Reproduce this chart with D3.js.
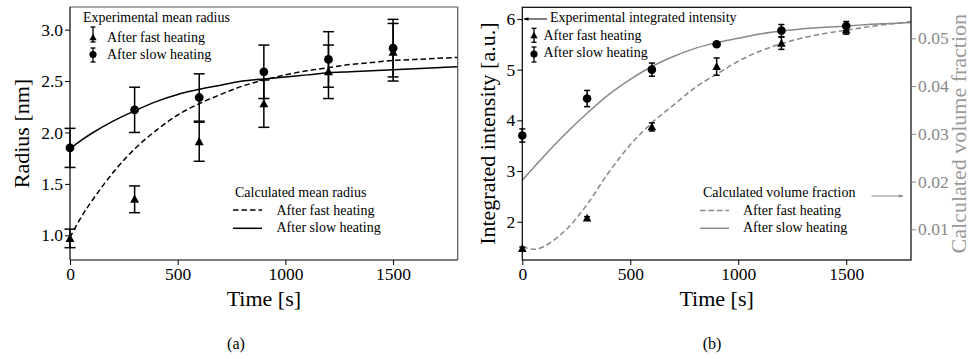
<!DOCTYPE html>
<html>
<head>
<meta charset="utf-8">
<script src="https://cdn.jsdelivr.net/npm/d3@7"></script>
<style>
  html, body { margin: 0; padding: 0; background: #fff; }
  svg { display: block; }
  text { font-family: "Liberation Serif", "Times New Roman", serif; }
</style>
</head>
<body>
<svg id="chart" width="972" height="359"></svg>
<script>
// ---------------- DATA ----------------
const timeExp = [0, 300, 600, 900, 1200, 1500];

// (a) experimental mean radius [nm]
const radiusFast    = [0.97, 1.35, 1.91, 2.28, 2.59, 2.78];
const radiusFastErr = [0.09, 0.13, 0.19, 0.23, 0.26, 0.28];
const radiusSlow    = [1.85, 2.22, 2.34, 2.59, 2.71, 2.82];
const radiusSlowErr = [0.19, 0.22, 0.23, 0.26, 0.27, 0.28];

// calculated curves sample times [s]
const timeCalc = [0, 50, 100, 200, 300, 400, 500, 600, 700, 800, 900, 1000,
                  1100, 1200, 1300, 1400, 1500, 1600, 1700, 1800];
// (a) calculated mean radius [nm]
const radiusCalcFast = [0.98, 1.17, 1.33, 1.61, 1.84, 2.02, 2.17, 2.28, 2.37, 2.45,
                        2.51, 2.56, 2.60, 2.63, 2.66, 2.68, 2.70, 2.71, 2.72, 2.73];
const radiusCalcSlow = [1.84, 1.92, 1.99, 2.11, 2.21, 2.30, 2.37, 2.42, 2.46, 2.50,
                        2.52, 2.54, 2.56, 2.58, 2.59, 2.60, 2.61, 2.62, 2.63, 2.64];

// (b) experimental integrated intensity [a.u.]
const intensityFast    = [1.47, 2.07, 3.87, 5.06, 5.52, 5.78];
const intensityFastErr = [0.03, 0.03, 0.08, 0.17, 0.12, 0.08];
const intensitySlow    = [3.70, 4.43, 5.00, 5.50, 5.77, 5.86];
const intensitySlowErr = [0.13, 0.16, 0.13, 0.03, 0.12, 0.09];

// (b) calculated volume fraction
const vfCalcFast = [0.0064, 0.0058, 0.0064, 0.0098, 0.0152, 0.0219, 0.0277, 0.0323, 0.0360, 0.0397,
                    0.0425, 0.0452, 0.0473, 0.0489, 0.0501, 0.0510, 0.0517, 0.0524, 0.0530, 0.0535];
const vfCalcSlow = [0.0203, 0.0228, 0.0253, 0.0300, 0.0343, 0.0382, 0.0414, 0.0441, 0.0462, 0.0479,
                    0.0491, 0.0500, 0.0509, 0.0515, 0.0520, 0.0523, 0.0526, 0.0529, 0.0531, 0.0533];

const xTicks = [0, 500, 1000, 1500];
const radiusTicks = [1.0, 1.5, 2.0, 2.5, 3.0];
const intensityTicks = [2, 3, 4, 5, 6];
const vfTicks = [0.01, 0.02, 0.03, 0.04, 0.05];

// ---------------- DRAW ----------------
const svg = d3.select("#chart");
const GRAY = "#888888";
const TICKFONT = "17.5px";
const LABELFONT = "22px";
const LEGFONT = "14px";

function styleAxis(g, color) {
  g.select(".domain").remove();
  g.selectAll(".tick line").attr("stroke", color).attr("stroke-width", 1);
  g.selectAll(".tick text").attr("fill", color).style("font-size", TICKFONT)
    .style("font-family", "'Liberation Serif', serif");
}

function triangle(sel, x, y, s, color) {
  sel.append("path")
    .attr("d", `M${x},${y - s}L${x + s * 0.95},${y + s * 0.75}L${x - s * 0.95},${y + s * 0.75}Z`)
    .attr("fill", color);
}

function errorBars(g, xs, ys, errs, x, y, cap, lw, marker, msize) {
  xs.forEach((t, i) => {
    const cx = x(t), cy = y(ys[i]);
    const y1 = y(ys[i] + errs[i]), y2 = y(ys[i] - errs[i]);
    g.append("line").attr("x1", cx).attr("x2", cx).attr("y1", y1).attr("y2", y2)
      .attr("stroke", "#000").attr("stroke-width", lw);
    [y1, y2].forEach(yy => g.append("line")
      .attr("x1", cx - cap).attr("x2", cx + cap).attr("y1", yy).attr("y2", yy)
      .attr("stroke", "#000").attr("stroke-width", lw));
    if (marker === "tri") triangle(g, cx, cy, msize, "#000");
    else g.append("circle").attr("cx", cx).attr("cy", cy).attr("r", msize).attr("fill", "#000");
  });
}

function legendMarker(g, x, yTop, yBot, yMark, marker, size) {
  g.append("line").attr("x1", x).attr("x2", x).attr("y1", yTop).attr("y2", yBot)
    .attr("stroke", "#000").attr("stroke-width", 1.3);
  [yTop, yBot].forEach(yy => g.append("line").attr("x1", x - 2.5).attr("x2", x + 2.5)
    .attr("y1", yy).attr("y2", yy).attr("stroke", "#000").attr("stroke-width", 1.3));
  if (marker === "tri") triangle(g, x, yMark, size, "#000");
  else g.append("circle").attr("cx", x).attr("cy", yMark).attr("r", size).attr("fill", "#000");
}

function text(g, x, y, s, opts = {}) {
  return g.append("text").attr("x", x).attr("y", y).text(s)
    .style("font-size", opts.size || LEGFONT)
    .attr("fill", opts.color || "#000")
    .attr("text-anchor", opts.anchor || "start");
}

// ======== Panel (a) ========
{
  const L = 70, R = 457.7, T = 7, B = 260;
  const x = d3.scaleLinear().domain([0, 1800]).range([L, R]);
  const y = d3.scaleLinear().domain([0.76, 3.22]).range([B, T]);
  const g = svg.append("g");

  const line = d3.line().x((d, i) => x(timeCalc[i])).y(d => y(d)).curve(d3.curveCatmullRom);
  g.append("path").datum(radiusCalcFast).attr("d", line)
    .attr("fill", "none").attr("stroke", "#000").attr("stroke-width", 1.5)
    .attr("stroke-dasharray", "5.5,3");
  g.append("path").datum(radiusCalcSlow).attr("d", line)
    .attr("fill", "none").attr("stroke", "#000").attr("stroke-width", 1.5);

  errorBars(g, timeExp, radiusFast, radiusFastErr, x, y, 5.5, 1.5, "tri", 4.7);
  errorBars(g, timeExp, radiusSlow, radiusSlowErr, x, y, 5.5, 1.5, "circle", 4.4);

  g.append("line").attr("x1", L).attr("x2", R).attr("y1", T).attr("y2", T).attr("stroke", "#555").attr("stroke-width", 1.2);
  g.append("line").attr("x1", R).attr("x2", R).attr("y1", T).attr("y2", B).attr("stroke", "#555").attr("stroke-width", 1.2);
  g.append("line").attr("x1", L).attr("x2", L).attr("y1", T).attr("y2", B).attr("stroke", "#000").attr("stroke-width", 1.2);
  g.append("line").attr("x1", L).attr("x2", R).attr("y1", B).attr("y2", B).attr("stroke", "#000").attr("stroke-width", 1.2);

  const xa = g.append("g").attr("transform", `translate(0,${B})`)
    .call(d3.axisBottom(x).tickValues(xTicks).tickFormat(d3.format("d")).tickSize(5).tickPadding(3));
  styleAxis(xa, "#000");
  const ya = g.append("g").attr("transform", `translate(${L},0)`)
    .call(d3.axisLeft(y).tickValues(radiusTicks).tickFormat(d3.format(".1f")).tickSize(5).tickPadding(2));
  styleAxis(ya, "#000");

  text(g, (L + R) / 2, 306, "Time [s]", { size: LABELFONT, anchor: "middle" });
  text(g, 0, 0, "Radius [nm]", { size: LABELFONT, anchor: "middle" })
    .attr("transform", `translate(29,${(T + B) / 2}) rotate(-90)`);
  text(g, 236, 349, "(a)", { size: "16px", anchor: "middle" });

  text(g, 83, 21.5, "Experimental mean radius");
  legendMarker(g, 93, 27, 42, 37.5, "tri", 3.8);
  text(g, 107, 41.5, "After fast heating");
  legendMarker(g, 93, 48, 62, 54.5, "circle", 3.6);
  text(g, 107, 59.3, "After slow heating");

  text(g, 235, 196.5, "Calculated mean radius");
  g.append("line").attr("x1", 233).attr("x2", 262).attr("y1", 210).attr("y2", 210)
    .attr("stroke", "#000").attr("stroke-width", 1.5).attr("stroke-dasharray", "5.5,3");
  text(g, 276.5, 215, "After fast heating");
  g.append("line").attr("x1", 233).attr("x2", 262).attr("y1", 228.3).attr("y2", 228.3)
    .attr("stroke", "#000").attr("stroke-width", 1.5);
  text(g, 276.5, 232.3, "After slow heating");
}

// ======== Panel (b) ========
{
  const L = 522.3, R = 911, T = 7.3, B = 260;
  const x = d3.scaleLinear().domain([0, 1800]).range([L, R]);
  const yI = d3.scaleLinear().domain([1.245, 6.23]).range([B, T]);
  const yV = d3.scaleLinear().domain([0.00357, 0.0565]).range([B, T]);
  const g = svg.append("g");

  const lineV = d3.line().x((d, i) => x(timeCalc[i])).y(d => yV(d)).curve(d3.curveCatmullRom);
  g.append("path").datum(vfCalcFast).attr("d", lineV)
    .attr("fill", "none").attr("stroke", GRAY).attr("stroke-width", 1.5)
    .attr("stroke-dasharray", "5.5,3");
  g.append("path").datum(vfCalcSlow).attr("d", lineV)
    .attr("fill", "none").attr("stroke", GRAY).attr("stroke-width", 1.5);

  errorBars(g, timeExp, intensityFast, intensityFastErr, x, yI, 3, 1.5, "tri", 4.5);
  errorBars(g, timeExp, intensitySlow, intensitySlowErr, x, yI, 3, 1.5, "circle", 4.3);

  g.append("rect").attr("x", L).attr("y", T).attr("width", R - L).attr("height", B - T)
    .attr("fill", "none").attr("stroke", "#000").attr("stroke-width", 1.2);

  const xa = g.append("g").attr("transform", `translate(0,${B})`)
    .call(d3.axisBottom(x).tickValues(xTicks).tickFormat(d3.format("d")).tickSize(5).tickPadding(3));
  styleAxis(xa, "#000");
  const ya = g.append("g").attr("transform", `translate(${L},0)`)
    .call(d3.axisLeft(yI).tickValues(intensityTicks).tickFormat(d3.format("d")).tickSize(5).tickPadding(2));
  styleAxis(ya, "#000");
  const yra = g.append("g").attr("transform", `translate(${R},0)`)
    .call(d3.axisRight(yV).tickValues(vfTicks).tickFormat(d3.format(".2f")).tickSize(5).tickPadding(2));
  styleAxis(yra, GRAY);

  text(g, (L + R) / 2, 306, "Time [s]", { size: LABELFONT, anchor: "middle" });
  text(g, 0, 0, "Integrated intensity [a.u.]", { size: LABELFONT, anchor: "middle" })
    .attr("transform", `translate(495,${(T + B) / 2}) rotate(-90)`);
  text(g, 0, 0, "Calculated volume fraction", { size: LABELFONT, anchor: "middle", color: "#999" })
    .attr("transform", `translate(966,${(T + B) / 2}) rotate(-90)`);
  text(g, 712, 349, "(b)", { size: "16px", anchor: "middle" });

  const defs = svg.append("defs");
  defs.append("marker").attr("id", "ahBlack").attr("viewBox", "0 0 10 10").attr("refX", 9).attr("refY", 5)
    .attr("markerWidth", 5).attr("markerHeight", 5).attr("orient", "auto")
    .append("path").attr("d", "M0,1.5L10,5L0,8.5Z").attr("fill", "#000");
  defs.append("marker").attr("id", "ahGray").attr("viewBox", "0 0 10 10").attr("refX", 9).attr("refY", 5)
    .attr("markerWidth", 5).attr("markerHeight", 5).attr("orient", "auto")
    .append("path").attr("d", "M0,1.5L10,5L0,8.5Z").attr("fill", GRAY);

  g.append("line").attr("x1", 547).attr("x2", 524).attr("y1", 19).attr("y2", 19)
    .attr("stroke", "#000").attr("stroke-width", 1).attr("marker-end", "url(#ahBlack)");
  text(g, 550, 22, "Experimental integrated intensity");
  legendMarker(g, 534, 28.3, 42.3, 35.5, "tri", 3.8);
  text(g, 543.5, 39.5, "After fast heating");
  legendMarker(g, 534, 47, 62, 54, "circle", 3.6);
  text(g, 543.5, 57, "After slow heating");

  text(g, 703, 196.5, "Calculated volume fraction");
  g.append("line").attr("x1", 871.5).attr("x2", 903).attr("y1", 196).attr("y2", 196)
    .attr("stroke", GRAY).attr("stroke-width", 1).attr("marker-end", "url(#ahGray)");
  g.append("line").attr("x1", 700).attr("x2", 729).attr("y1", 210.5).attr("y2", 210.5)
    .attr("stroke", GRAY).attr("stroke-width", 1.5).attr("stroke-dasharray", "5.5,3");
  text(g, 743, 215, "After fast heating");
  g.append("line").attr("x1", 700).attr("x2", 729).attr("y1", 228.3).attr("y2", 228.3)
    .attr("stroke", GRAY).attr("stroke-width", 1.5);
  text(g, 743, 232, "After slow heating");
}
</script>
</body>
</html>
